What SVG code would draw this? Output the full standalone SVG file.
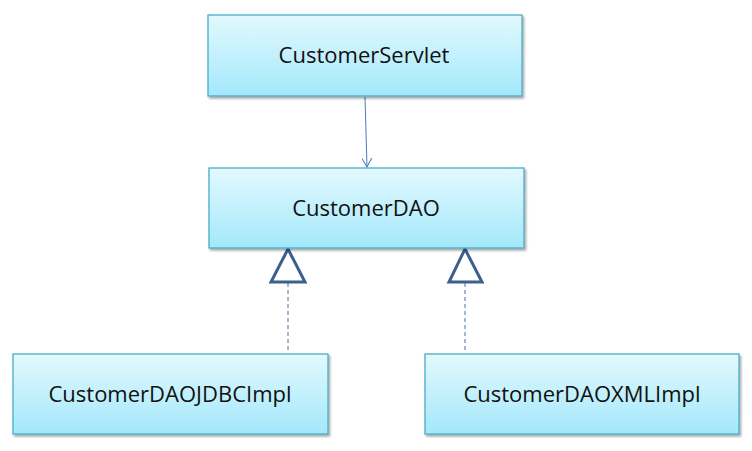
<svg xmlns="http://www.w3.org/2000/svg" width="752" height="451" viewBox="0 0 752 451">
<style>
.box{fill:url(#g);stroke:#4bacc6;stroke-width:1.3;filter:url(#sh)}
.lbl{font-family:"Open Sans","Liberation Sans",sans-serif;font-size:22px;fill:#111;text-anchor:middle}
.real{fill:none;stroke:#3b5f8e;stroke-width:3;stroke-linejoin:miter}
.dash{stroke:#4a6fa5;stroke-width:1;stroke-dasharray:4,3}
</style>
<defs>
<linearGradient id="g" x1="0" y1="0" x2="0" y2="1">
<stop offset="0" stop-color="#e3f9fe"/>
<stop offset="1" stop-color="#a3e8fb"/>
</linearGradient>
<filter id="sh" x="-5%" y="-10%" width="112%" height="130%">
<feDropShadow dx="1.5" dy="2" stdDeviation="1.2" flood-color="#000" flood-opacity="0.35"/>
</filter>
<marker id="open" viewBox="0 0 10 10" refX="9" refY="5" markerWidth="10" markerHeight="10" markerUnits="userSpaceOnUse" orient="auto">
<path d="M0,0 L9,5 L0,10" fill="none" stroke="#4a7ebb" stroke-width="1"/>
</marker>
</defs>
<g id="connectors">
<line x1="365" y1="97" x2="367" y2="167" stroke="#4a7ebb" stroke-width="1" marker-end="url(#open)"/>
<line class="dash" x1="288" y1="283" x2="288" y2="353"/>
<line class="dash" x1="465" y1="283" x2="465" y2="353"/>
<polygon class="real" points="288,249 305,282 271,282"/>
<polygon class="real" points="465,249 482,282 449,282"/>
</g>
<g id="CustomerServlet">
<rect class="box" x="208" y="15" width="314" height="81"/>
<text class="lbl" x="364" y="63">CustomerServlet</text>
</g>
<g id="CustomerDAO">
<rect class="box" x="209" y="168" width="315" height="80"/>
<text class="lbl" x="366" y="216">CustomerDAO</text>
</g>
<g id="CustomerDAOJDBCImpl">
<rect class="box" x="13" y="354" width="315" height="80"/>
<text class="lbl" x="170" y="402">CustomerDAOJDBCImpl</text>
</g>
<g id="CustomerDAOXMLImpl">
<rect class="box" x="425" y="354" width="314" height="80"/>
<text class="lbl" x="582" y="402">CustomerDAOXMLImpl</text>
</g>
</svg>
